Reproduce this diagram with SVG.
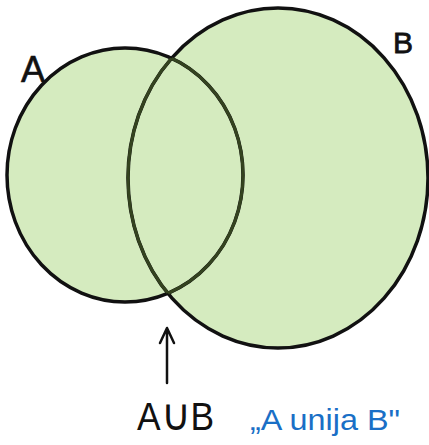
<svg xmlns="http://www.w3.org/2000/svg" width="429" height="445" viewBox="0 0 429 445">
<style>
.fill{fill:#d5ebbf;stroke:none}
.blk{fill:none;stroke:#111;stroke-width:3.5}
.olv{fill:none;stroke:#34431f;stroke-width:3}
.lbl{font-family:"Liberation Sans",Arial,sans-serif;fill:#111}
.blue{font-family:"Liberation Sans",Arial,sans-serif;fill:#1a6fc6}
</style>
<defs>
<clipPath id="inB"><ellipse cx="278" cy="178" rx="150" ry="170"/></clipPath>
<clipPath id="inA"><ellipse cx="125" cy="175" rx="118" ry="127"/></clipPath>
</defs>
<g id="setA">
<ellipse class="fill" cx="125" cy="175" rx="118" ry="127"/>
</g>
<g id="setB">
<ellipse class="fill" cx="278" cy="178" rx="150" ry="170"/>
</g>
<g id="outlines">
<ellipse class="blk" cx="125" cy="175" rx="118" ry="127"/>
<ellipse class="blk" cx="278" cy="178" rx="150" ry="170"/>
<ellipse class="olv" cx="125" cy="175" rx="118" ry="127" clip-path="url(#inB)"/>
<ellipse class="olv" cx="278" cy="178" rx="150" ry="170" clip-path="url(#inA)"/>
</g>
<g id="labelA"><text class="lbl" x="21" y="82" font-size="36" stroke="#111" stroke-width="0.6">A</text></g>
<g id="labelB"><text class="lbl" x="393" y="53" font-size="30" stroke="#111" stroke-width="0.8">B</text></g>
<g id="connectors">
<path d="M167 383 L167 330 M160 343 L167 328 L174 343" fill="none" stroke="#111" stroke-width="2.5" stroke-linecap="round" stroke-linejoin="round"/>
</g>
<g id="union"><text class="lbl" x="137" y="430" font-size="38" textLength="77" lengthAdjust="spacingAndGlyphs">A<tspan font-size="44">∪</tspan>B</text></g>
<g id="caption"><text class="blue" x="250" y="430" font-size="30" textLength="150" lengthAdjust="spacingAndGlyphs">„A unija B"</text></g>
</svg>
